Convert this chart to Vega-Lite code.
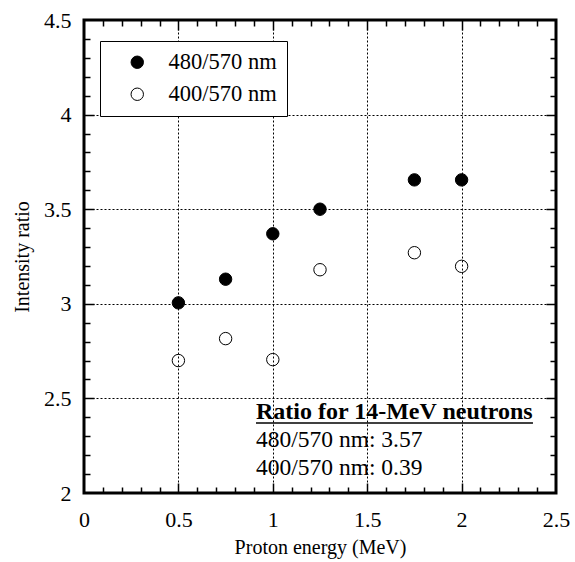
{
  "$schema": "https://vega.github.io/schema/vega-lite/v6.json",
  "width": 472,
  "height": 473,
  "autosize": {"type": "none"},
  "padding": {"left": 84, "top": 20, "right": 19, "bottom": 69},
  "config": {
    "view": {"stroke": "black", "strokeWidth": 3},
    "font": "Liberation Serif",
    "axis": {
      "domain": false,
      "ticks": true,
      "tickColor": "black",
      "tickOpacity": 1,
      "tickWidth": 1.5,
      "labelFont": "Liberation Serif",
      "labelFontSize": 22,
      "labelColor": "black",
      "titleFont": "Liberation Serif",
      "titleFontSize": 20,
      "titleFontWeight": "normal",
      "titleColor": "black",
      "labelFlush": false,
      "labelOverlap": false,
      "gridColor": "black",
      "gridDash": [2, 2],
      "gridWidth": 1,
      "format": "~g"
    }
  },
  "data": {
    "values": [
      {"energy": 0.5, "ratio": 3.005, "series": "480/570 nm"},
      {"energy": 0.75, "ratio": 3.13, "series": "480/570 nm"},
      {"energy": 1.0, "ratio": 3.37, "series": "480/570 nm"},
      {"energy": 1.25, "ratio": 3.5, "series": "480/570 nm"},
      {"energy": 1.75, "ratio": 3.655, "series": "480/570 nm"},
      {"energy": 2.0, "ratio": 3.655, "series": "480/570 nm"},
      {"energy": 0.5, "ratio": 2.7, "series": "400/570 nm"},
      {"energy": 0.75, "ratio": 2.816, "series": "400/570 nm"},
      {"energy": 1.0, "ratio": 2.705, "series": "400/570 nm"},
      {"energy": 1.25, "ratio": 3.18, "series": "400/570 nm"},
      {"energy": 1.75, "ratio": 3.27, "series": "400/570 nm"},
      {"energy": 2.0, "ratio": 3.198, "series": "400/570 nm"}
    ]
  },
  "resolve": {"axis": {"x": "independent", "y": "independent"}},
  "layer": [
    {
      "mark": {"type": "point", "filled": true, "shape": "circle", "size": 154, "stroke": "black", "strokeWidth": 1, "opacity": 1},
      "encoding": {
        "x": {
          "field": "energy", "type": "quantitative",
          "scale": {"domain": [0, 2.5], "nice": false, "zero": false},
          "axis": {
            "orient": "bottom",
            "title": "Proton energy (MeV)",
            "titlePadding": 7,
            "values": [0, 0.5, 1, 1.5, 2, 2.5],
            "ticks": false,
            "grid": true,
            "labelPadding": 16
          }
        },
        "y": {
          "field": "ratio", "type": "quantitative",
          "scale": {"domain": [2, 4.5], "nice": false, "zero": false},
          "axis": {
            "orient": "left",
            "title": "Intensity ratio",
            "titlePadding": 11,
            "values": [2, 2.5, 3, 3.5, 4, 4.5],
            "ticks": false,
            "grid": true,
            "labelPadding": 13
          }
        },
        "fill": {
          "field": "series", "type": "nominal",
          "scale": {"domain": ["480/570 nm", "400/570 nm"], "range": ["black", "transparent"]},
          "legend": {
            "title": null,
            "orient": "none",
            "legendX": 16,
            "legendY": 21,
            "strokeColor": "black",
            "fillColor": "white",
            "padding": 10,
            "symbolOffset": 16,
            "symbolType": "circle",
            "symbolSize": 154,
            "symbolStrokeColor": "black",
            "symbolStrokeWidth": 1,
            "labelFont": "Liberation Serif",
            "labelFontSize": 22.5,
            "labelColor": "black",
            "labelOffset": 20,
            "rowPadding": 9,
            "encode": {"legend": {"update": {"strokeWidth": {"value": 2.5}}}}
          }
        }
      }
    },
    {
      "data": {"values": [{"label": "Ratio for 14-MeV neutrons"}]},
      "mark": {"type": "text", "align": "left", "baseline": "alphabetic", "fontWeight": "bold", "fontSize": 24, "font": "Liberation Serif", "color": "black"},
      "encoding": {
        "x": {
          "datum": 0.911, "type": "quantitative",
          "axis": {"orient": "bottom", "title": null, "labels": false, "grid": false, "ticks": true, "tickColor": "black", "zindex": 1, "values": [0.5, 1, 1.5, 2], "tickSize": 10, "offset": -10}
        },
        "y": {
          "datum": 2.391, "type": "quantitative",
          "axis": {"orient": "left", "title": null, "labels": false, "grid": false, "ticks": true, "tickColor": "black", "zindex": 1, "values": [2.5, 3, 3.5, 4], "tickSize": 10, "offset": -10}
        },
        "text": {"field": "label", "type": "nominal"}
      }
    },
    {
      "data": {"values": [{"label": "480/570 nm: 3.57"}]},
      "mark": {"type": "text", "align": "left", "baseline": "alphabetic", "fontSize": 23.5, "font": "Liberation Serif", "color": "black"},
      "encoding": {
        "x": {
          "datum": 0.911, "type": "quantitative",
          "axis": {
            "orient": "bottom", "title": null, "labels": false, "grid": false, "ticks": true, "tickColor": "black", "zindex": 1,
            "values": [0.1, 0.2, 0.3, 0.4, 0.6, 0.7, 0.8, 0.9, 1.1, 1.2, 1.3, 1.4, 1.6, 1.7, 1.8, 1.9, 2.1, 2.2, 2.3, 2.4],
            "tickSize": 6, "offset": -6
          }
        },
        "y": {
          "datum": 2.243, "type": "quantitative",
          "axis": {
            "orient": "left", "title": null, "labels": false, "grid": false, "ticks": true, "tickColor": "black", "zindex": 1,
            "values": [2.1, 2.2, 2.3, 2.4, 2.6, 2.7, 2.8, 2.9, 3.1, 3.2, 3.3, 3.4, 3.6, 3.7, 3.8, 3.9, 4.1, 4.2, 4.3, 4.4],
            "tickSize": 6, "offset": -6
          }
        },
        "text": {"field": "label", "type": "nominal"}
      }
    },
    {
      "data": {"values": [{"label": "400/570 nm: 0.39"}]},
      "mark": {"type": "text", "align": "left", "baseline": "alphabetic", "fontSize": 23.5, "font": "Liberation Serif", "color": "black"},
      "encoding": {
        "x": {
          "datum": 0.911, "type": "quantitative",
          "axis": {"orient": "top", "title": null, "labels": false, "grid": false, "ticks": true, "tickColor": "black", "zindex": 1, "values": [0.5, 1, 1.5, 2], "tickSize": 10, "offset": -10}
        },
        "y": {
          "datum": 2.095, "type": "quantitative",
          "axis": {"orient": "right", "title": null, "labels": false, "grid": false, "ticks": true, "tickColor": "black", "zindex": 1, "values": [2.5, 3, 3.5, 4], "tickSize": 10, "offset": -10}
        },
        "text": {"field": "label", "type": "nominal"}
      }
    },
    {
      "data": {"values": [{"label": "underline"}]},
      "mark": {"type": "rule", "color": "black", "strokeWidth": 1.5},
      "encoding": {
        "x": {
          "datum": 0.911, "type": "quantitative",
          "axis": {
            "orient": "top", "title": null, "labels": false, "grid": false, "ticks": true, "tickColor": "black", "zindex": 1,
            "values": [0.1, 0.2, 0.3, 0.4, 0.6, 0.7, 0.8, 0.9, 1.1, 1.2, 1.3, 1.4, 1.6, 1.7, 1.8, 1.9, 2.1, 2.2, 2.3, 2.4],
            "tickSize": 6, "offset": -6
          }
        },
        "x2": {"datum": 2.378},
        "y": {
          "datum": 2.37, "type": "quantitative",
          "axis": {
            "orient": "right", "title": null, "labels": false, "grid": false, "ticks": true, "tickColor": "black", "zindex": 1,
            "values": [2.1, 2.2, 2.3, 2.4, 2.6, 2.7, 2.8, 2.9, 3.1, 3.2, 3.3, 3.4, 3.6, 3.7, 3.8, 3.9, 4.1, 4.2, 4.3, 4.4],
            "tickSize": 6, "offset": -6
          }
        }
      }
    }
  ]
}
